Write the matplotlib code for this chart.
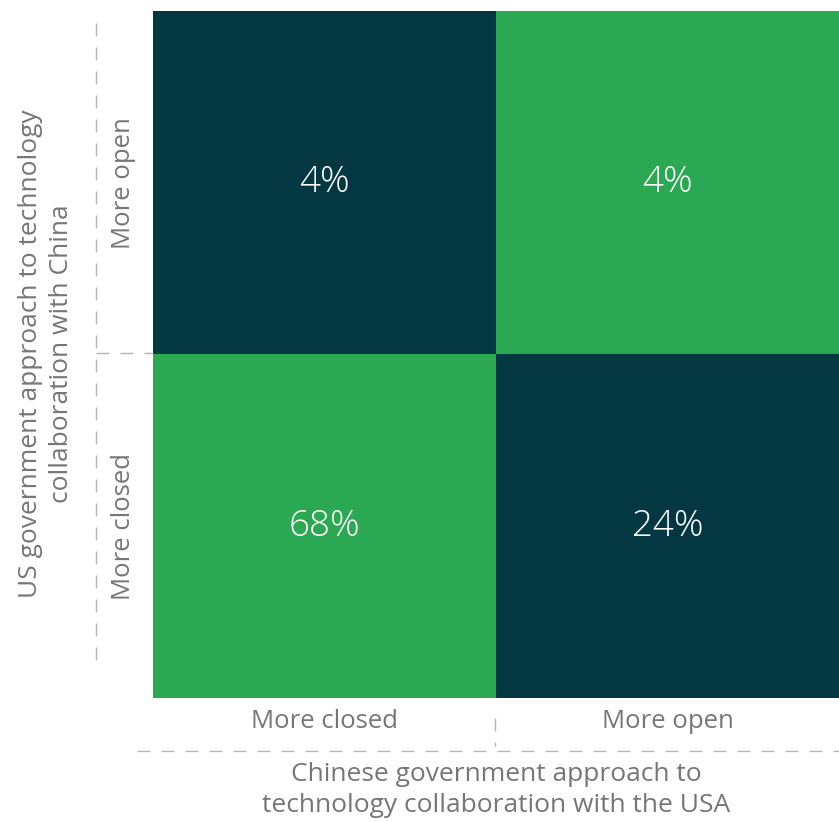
import matplotlib
matplotlib.use("Agg")
import matplotlib.pyplot as plt
from matplotlib.colors import ListedColormap
from matplotlib.lines import Line2D
import numpy as np

plt.rcParams["font.family"] = ["Open Sans", "DejaVu Sans"]

# US approach (rows, bottom->top) x Chinese approach (cols, left->right)
us_labels = ["More closed", "More open"]
cn_labels = ["More closed", "More open"]
shares = [[68, 24],
          [4, 4]]
agree = [[1, 0],
         [0, 1]]

DARK = "#033842"
GREEN = "#2aa952"
GREY_TXT = "#767676"
GREY_LINE = "#b5b5b5"

W, H = 839, 822
fig = plt.figure(figsize=(W / 100, H / 100), dpi=100)
ax = fig.add_axes([153 / W, 1 - 698 / H, (W - 153) / W, (698 - 11) / H])

ax.pcolormesh(np.array(agree), cmap=ListedColormap([DARK, GREEN]), vmin=0, vmax=1)
for i, row in enumerate(shares):
    for j, v in enumerate(row):
        ax.text(j + 0.5, i + 0.5, f"{v}%", color="white", fontsize=26.5,
                fontweight="light", ha="center", va="center")

ax.set_xlim(0, 2)
ax.set_ylim(0, 2)
ax.set_xticks([0.5, 1.5])
ax.set_xticklabels(cn_labels, fontsize=18.5, color=GREY_TXT)
ax.set_yticks([0.5, 1.5])
ax.set_yticklabels(us_labels, fontsize=18.5, color=GREY_TXT, rotation=90,
                   va="center")
ax.tick_params(axis="x", length=0, pad=8)
ax.tick_params(axis="y", length=0, pad=12)
for s in ax.spines.values():
    s.set_visible(False)


def px_line(x0, y0, x1, y1):
    # dashed guide line in pixel coordinates (top-left origin)
    lw = 1.0
    fig.add_artist(Line2D([x0 / W, x1 / W], [1 - y0 / H, 1 - y1 / H],
                          transform=fig.transFigure, color=GREY_LINE, lw=lw,
                          dashes=(13 * 0.72 / lw, 11 * 0.72 / lw)))


px_line(96, 23, 96, 662)
px_line(96, 353, 153, 353)
px_line(137, 751, 839, 751)
px_line(495, 718, 495, 746)

fig.text(46 / W, 1 - 354 / H,
         "US government approach to technology\ncollaboration with China",
         rotation=90, ha="center", va="center", fontsize=19, color=GREY_TXT,
         linespacing=1.3)
fig.text(496 / W, 1 - 790 / H,
         "Chinese government approach to\ntechnology collaboration with the USA",
         ha="center", va="center", fontsize=19, color=GREY_TXT,
         linespacing=1.3)

fig.savefig("out.png", dpi=100)
